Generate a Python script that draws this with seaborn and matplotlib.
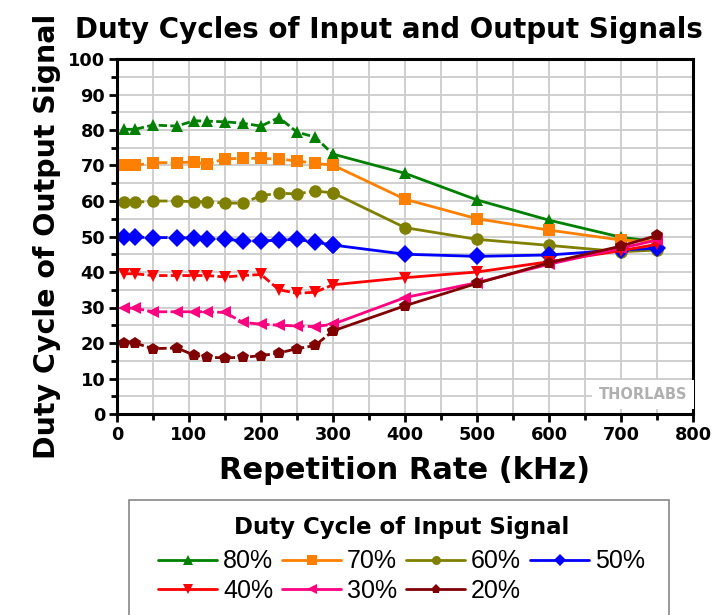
import pandas as pd
import seaborn as sns
import matplotlib.pyplot as plt
from matplotlib.lines import Line2D
from matplotlib.patches import Rectangle
from matplotlib.ticker import MultipleLocator

# Taxa de repetição (kHz)
taxa = [10, 25, 50, 83, 107, 125, 150, 175, 200, 225, 250, 275, 300, 400, 500, 600, 700, 750]

# Ciclo de trabalho do sinal de saída, para cada ciclo do sinal de entrada
saida_80 = [80.2, 80.2, 81.4, 81.1, 82.6, 82.5, 82.3, 81.9, 81.1, 83.5, 79.4, 78.0, 73.2, 67.8, 60.3, 54.6, 49.8, 48.5]
saida_70 = [70.0, 70.0, 70.8, 70.8, 71.0, 70.4, 71.9, 72.0, 72.0, 71.8, 71.3, 70.6, 70.1, 60.5, 55.0, 51.8, 49.0, 48.5]
saida_60 = [59.8, 59.6, 60.0, 60.0, 59.8, 59.8, 59.4, 59.4, 61.5, 62.2, 62.0, 62.8, 62.3, 52.5, 49.2, 47.5, 45.7, 46.2]
saida_50 = [49.8, 49.8, 49.7, 49.7, 49.5, 49.3, 49.2, 48.8, 48.7, 49.0, 49.2, 48.4, 47.6, 45.0, 44.4, 44.8, 46.2, 46.7]
saida_40 = [39.5, 39.5, 39.0, 39.0, 39.0, 39.0, 38.6, 39.0, 39.3, 35.0, 34.0, 34.3, 36.4, 38.4, 40.0, 42.9, 46.0, 47.8]
saida_30 = [29.8, 29.8, 28.8, 28.8, 28.8, 28.8, 28.6, 25.8, 25.3, 25.0, 24.8, 24.6, 25.3, 32.8, 37.0, 42.2, 46.7, 49.0]
saida_20 = [20.0, 20.0, 18.4, 18.6, 16.6, 16.0, 15.8, 16.0, 16.4, 17.2, 18.4, 19.3, 23.4, 30.5, 36.8, 42.6, 47.3, 50.3]

rotulos = ['80%', '70%', '60%', '50%', '40%', '30%', '20%']
series = [saida_80, saida_70, saida_60, saida_50, saida_40, saida_30, saida_20]
cores = ['#008000', '#ff8000', '#808000', '#0000ff', '#ff0000', '#ff0080', '#800000']
marcadores = ['^', 's', 'o', 'D', 'v', '<', 'p']

sns.set_style('ticks')
plt.rcParams['font.family'] = ['DejaVu Sans']
plt.rcParams['font.weight'] = 'bold'
plt.rcParams['text.color'] = 'black'
plt.rcParams['axes.labelcolor'] = 'black'
plt.rcParams['xtick.color'] = 'black'
plt.rcParams['ytick.color'] = 'black'

W, H = 715, 615
fig = plt.figure(figsize=(W / 100, H / 100), dpi=100)
ax = fig.add_axes([117 / W, 1 - 414 / H, 576 / W, 355 / H])

corte = 300
for rot, ys, cor, mk in zip(rotulos, series, cores, marcadores):
    df = pd.DataFrame({'taxa': taxa, 'saida': ys})
    baixo = df[df['taxa'] <= corte]
    alto = df[df['taxa'] >= corte]
    sns.lineplot(data=baixo, x='taxa', y='saida', ax=ax, color=cor, marker=mk,
                 markersize=9, markeredgewidth=0, linewidth=2, dashes=(3, 1.2))
    sns.lineplot(data=alto, x='taxa', y='saida', ax=ax, color=cor, marker=mk,
                 markersize=9, markeredgewidth=0, linewidth=2)

ax.set_xlim(0, 800)
ax.set_ylim(0, 100)
ax.xaxis.set_major_locator(MultipleLocator(100))
ax.xaxis.set_minor_locator(MultipleLocator(50))
ax.yaxis.set_major_locator(MultipleLocator(10))
ax.yaxis.set_minor_locator(MultipleLocator(5))
ax.grid(which='both', color='#cccccc', linewidth=1.3)
ax.set_axisbelow(True)
for s in ax.spines.values():
    s.set_linewidth(2.2)
    s.set_color('black')
ax.tick_params(which='major', length=6, width=2, labelsize=12.8, direction='out', pad=2.5)
ax.tick_params(which='minor', length=4, width=2, direction='out')
for t in ax.get_xticklabels() + ax.get_yticklabels():
    t.set_fontweight('bold')

ax.set_xlabel('Repetition Rate (kHz)', fontsize=22, fontweight='bold', labelpad=9)
ax.set_ylabel('Duty Cycle of Output Signal', fontsize=20.5, fontweight='bold', labelpad=5)
ax.set_title('Duty Cycles of Input and Output Signals', fontsize=20, fontweight='bold',
             pad=15, x=0.472)

# marca d'agua
ax.text(0.99, 0.055, 'THORLABS', transform=ax.transAxes, ha='right', va='center',
        fontsize=10.5, fontweight='bold', color='#b0b0b0',
        bbox=dict(facecolor='white', edgecolor='none', pad=5))

# moldura da legenda (cortada na borda de baixo)
fig.patches.append(Rectangle((129 / W, -0.05), 540 / W, 0.05 + 1 - 500 / H,
                             transform=fig.transFigure, facecolor='white',
                             edgecolor='#888888', linewidth=1.2, zorder=0))

# legenda preenchida por colunas -> reordenar para ficar por linhas
ordem = [0, 4, 1, 5, 2, 6, 3]
handles = [Line2D([0], [0], color=cores[i], marker=marcadores[i], markersize=6.5,
                  markeredgewidth=0, linewidth=2) for i in ordem]
labels = [rotulos[i] for i in ordem]
leg = fig.legend(handles, labels, title='Duty Cycle of Input Signal', ncol=4,
                 loc='upper left', bbox_to_anchor=(158 / W, 1 - 516 / H),
                 borderaxespad=0, borderpad=0, title_fontsize=16.5, frameon=False,
                 handlelength=2.36, handletextpad=0.24, columnspacing=0.36,
                 labelspacing=0.23,
                 prop={'family': 'Liberation Sans', 'weight': 'normal', 'size': 18})
leg.get_title().set_fontweight('bold')
leg._legend_box.sep = 7.5  # espaco entre titulo e itens

fig.savefig('out.png', dpi=100)
